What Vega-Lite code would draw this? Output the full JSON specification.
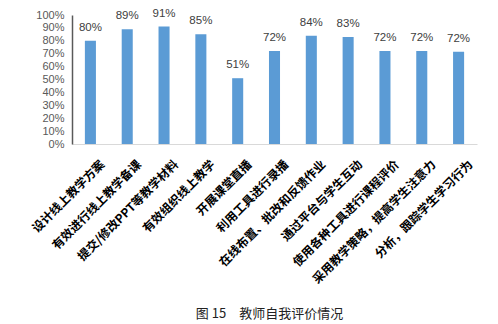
{
  "$schema": "https://vega.github.io/schema/vega-lite/v6.json",
  "width": 405,
  "height": 129,
  "autosize": {"type": "none"},
  "padding": {"left": 72, "top": 15, "right": 21, "bottom": 180},
  "background": "white",
  "title": {
    "text": "图 15　教师自我评价情况",
    "orient": "bottom",
    "anchor": "middle",
    "font": "Noto Sans CJK SC",
    "fontSize": 13,
    "fontWeight": "normal",
    "color": "#222222",
    "offset": 23,
    "dx": -5
  },
  "data": {
    "values": [
      {"item": "设计线上教学方案", "rate": 0.80},
      {"item": "有效进行线上教学备课", "rate": 0.89},
      {"item": "提交/修改PPT等教学材料", "rate": 0.91},
      {"item": "有效组织线上教学", "rate": 0.85},
      {"item": "开展课堂直播", "rate": 0.51},
      {"item": "利用工具进行录播", "rate": 0.72},
      {"item": "在线布置、批改和反馈作业", "rate": 0.84},
      {"item": "通过平台与学生互动", "rate": 0.83},
      {"item": "使用各种工具进行课程评价", "rate": 0.72},
      {"item": "采用教学策略，提高学生注意力", "rate": 0.72},
      {"item": "分析，跟踪学生学习行为", "rate": 0.716}
    ]
  },
  "encoding": {
    "x": {
      "field": "item",
      "type": "nominal",
      "sort": null,
      "scale": {"paddingInner": 0.7, "paddingOuter": 0.35},
      "axis": {
        "title": null,
        "labelAngle": -45,
        "labelAlign": "right",
        "labelBaseline": "middle",
        "labelOffset": 12,
        "labelPadding": 18,
        "labelFont": "Noto Sans CJK SC",
        "labelFontSize": 12,
        "labelFontWeight": "bold",
        "labelColor": "#000000",
        "labelLimit": 300,
        "ticks": false,
        "domainColor": "#d9d9d9",
        "domainWidth": 1,
        "grid": false
      }
    },
    "y": {
      "field": "rate",
      "type": "quantitative",
      "scale": {"domain": [0, 1], "nice": false},
      "axis": {
        "title": null,
        "values": [0, 0.1, 0.2, 0.3, 0.4, 0.5, 0.6, 0.7, 0.8, 0.9, 1.0],
        "format": ".0%",
        "labelFont": "Liberation Sans",
        "labelFontSize": 11,
        "labelColor": "#595959",
        "labelPadding": 8,
        "ticks": false,
        "domainColor": "#595959",
        "domainWidth": 1.5,
        "grid": false
      }
    }
  },
  "layer": [
    {"mark": {"type": "bar", "color": "#5B9BD5"}},
    {
      "mark": {
        "type": "text",
        "baseline": "bottom",
        "dy": -8,
        "font": "Liberation Sans",
        "fontSize": 11.5,
        "color": "#404040"
      },
      "encoding": {"text": {"field": "rate", "type": "quantitative", "format": ".0%"}}
    }
  ],
  "config": {"view": {"stroke": null}}
}
